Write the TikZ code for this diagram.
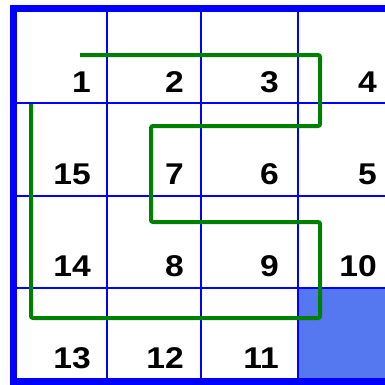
\documentclass[tikz,border=0pt]{standalone}
\usepackage{fontspec}
\setmainfont{Liberation Sans}
\usepackage{tikz}

\definecolor{gridblue}{RGB}{0,0,255}
\definecolor{cellblue}{RGB}{85,119,240}
\definecolor{pathgreen}{RGB}{0,128,0}
\tikzset{num/.style={anchor=base east,inner sep=0pt,xscale=1.12,font=\fontsize{30}{30}\selectfont\bfseries}}

\begin{document}
\begin{tikzpicture}[x=1pt,y=-1pt]
\useasboundingbox (0,0) rectangle (385,384);
\fill[cellblue] (298,288) rectangle (385,380);
\foreach \x in {107,201,298}{\draw[gridblue,line width=1.2pt] (\x,12)--(\x,380);}
\foreach \y in {103,196,288}{\draw[gridblue,line width=1.2pt] (17,\y)--(385,\y);}
\draw[gridblue,line width=7pt] (385,8)--(13,8)--(13,381)--(385,381);
\foreach \t/\c/\r in {1/91/92,2/184/92,3/279/92,4/377/92,15/91/184,7/184/184,6/279/184,5/377/184,14/91/276,8/184/276,9/279/276,10/377/276,13/91/368,12/184/368,11/279/368}{\node[num] (n\t) at (\c,\r) {\t};}
\draw[pathgreen,line width=4pt,rounded corners=2pt] (80,55)--(320,55)--(320,126)--(151,126)--(151,222)--(320,222)--(320,318)--(31,318)--(31,104);
\end{tikzpicture}
\end{document}
